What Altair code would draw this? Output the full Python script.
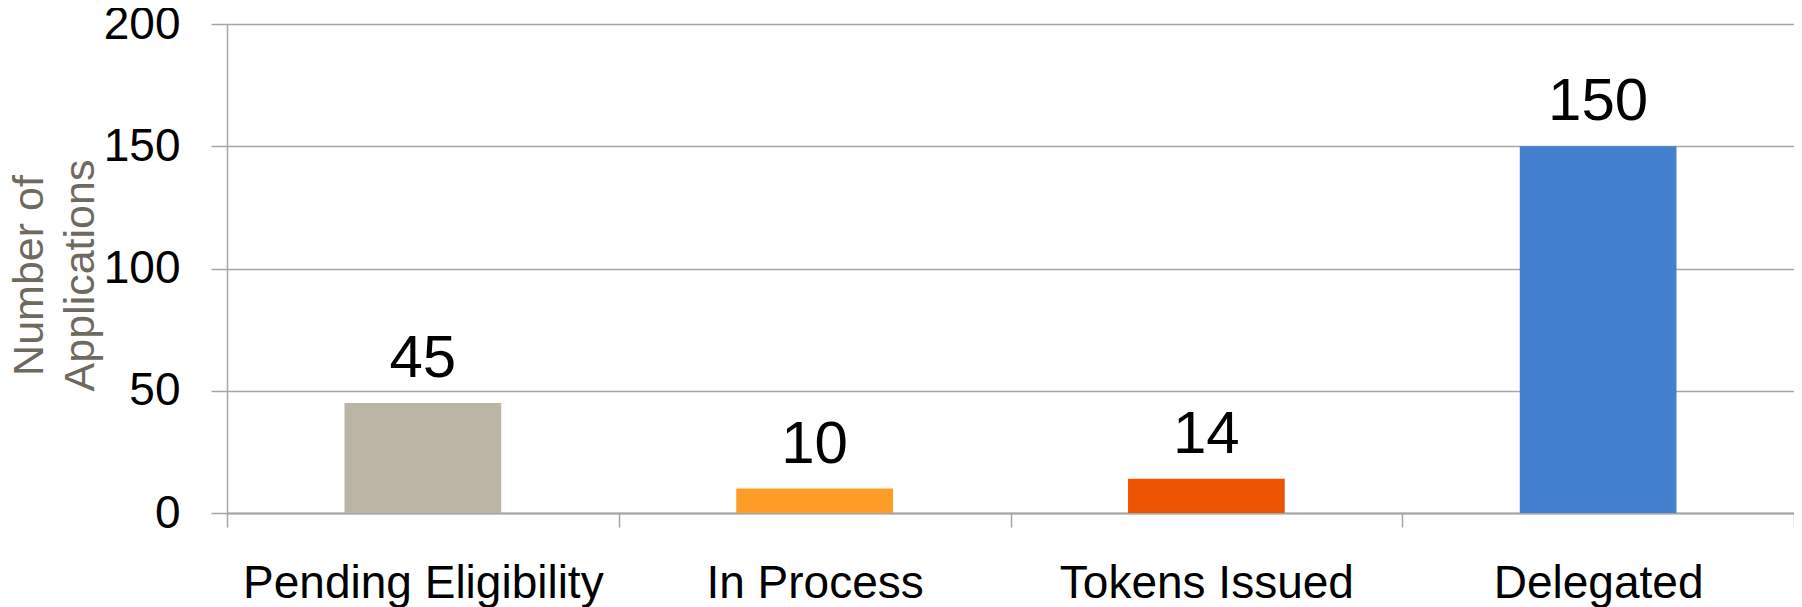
import altair as alt
import pandas as pd

categories = ["Pending Eligibility", "In Process", "Tokens Issued", "Delegated"]
values = [45, 10, 14, 150]
colors = ["#BBB5A6", "#FD9C27", "#EC5400", "#4380CE"]

df = pd.DataFrame({"status": categories, "count": values})

FONT = "Liberation Sans"
GRID = "#a6a6a6"

x_enc = alt.X(
    "status:N",
    sort=categories,
    scale=alt.Scale(paddingInner=0, paddingOuter=0),
    axis=alt.Axis(
        title=None,
        labelAngle=0,
        labelLimit=0,
        labelFont=FONT,
        labelFontSize=46,
        labelColor="#000000",
        labelPadding=34,
        tickBand="extent",
        tickSize=14,
        tickColor=GRID,
        tickWidth=1.5,
        domainColor=GRID,
        domainWidth=2,
        grid=False,
    ),
)

y_enc = alt.Y(
    "count:Q",
    scale=alt.Scale(domain=[0, 200], nice=False),
    axis=alt.Axis(
        values=[0, 50, 100, 150, 200],
        title=["Number of", "Applications"],
        titleFont=FONT,
        titleFontSize=43,
        titleFontWeight="normal",
        titleColor="#6f6a60",
        titleAngle=-90,
        titleAlign="center",
        titleBaseline="alphabetic",
        titleLineHeight=51,
        titleX=-185,
        titleY=251,
        labelFont=FONT,
        labelFontSize=46,
        labelColor="#000000",
        labelPadding=31,
        tickSize=16,
        tickColor=GRID,
        tickWidth=1.5,
        domainColor=GRID,
        domainWidth=1.5,
        gridColor=GRID,
        gridWidth=1.5,
    ),
)

bars = alt.Chart(df).mark_bar(width=alt.RelativeBandSize(0.4)).encode(
    x=x_enc,
    y=y_enc,
    color=alt.Color("status:N", scale=alt.Scale(domain=categories, range=colors), legend=None),
)

text = alt.Chart(df).mark_text(
    font=FONT, fontSize=60, color="#000000", baseline="alphabetic", dy=-26
).encode(
    x=alt.X("status:N", sort=categories),
    y=alt.Y("count:Q"),
    text=alt.Text("count:Q"),
)

chart = alt.layer(bars, text).properties(
    width=1567,
    height=489,
    autosize=alt.AutoSizeParams(type="none"),
    padding={"left": 219, "top": 16, "right": 0, "bottom": 94},
).configure_view(stroke=None).configure(background="#ffffff")

chart.save("out.html", embed_options={"renderer": "svg", "actions": False})
